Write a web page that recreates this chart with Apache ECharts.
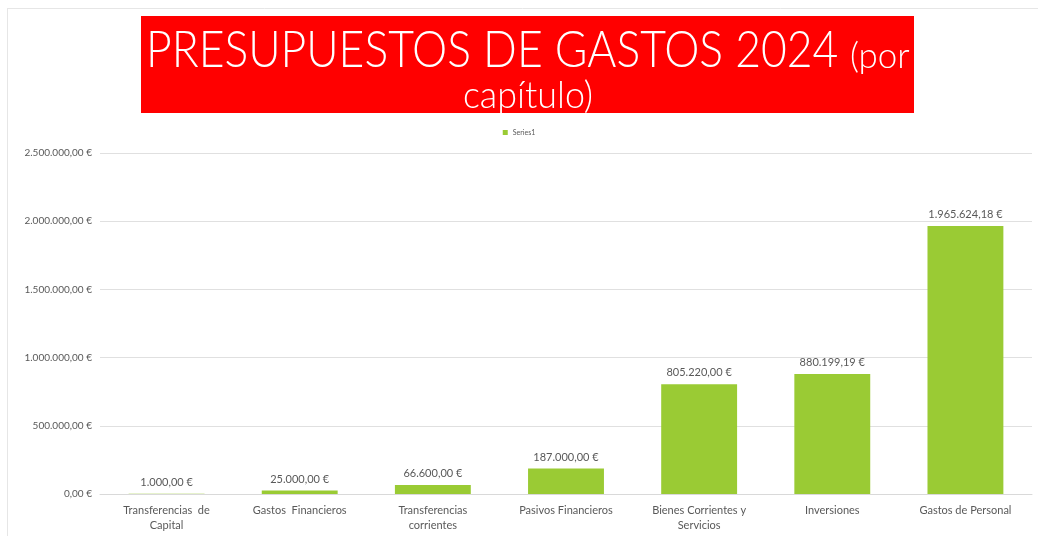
<!DOCTYPE html>
<html>
<head>
<meta charset="utf-8">
<script src="https://cdn.jsdelivr.net/npm/echarts@6/dist/echarts.min.js"></script>
<style>html,body{margin:0;padding:0;background:#fff}#c{width:1038px;height:536px}</style>
</head>
<body>
<div id="c"></div>
<script>
const categories = ["Transferencias  de\nCapital", "Gastos  Financieros", "Transferencias\ncorrientes", "Pasivos Financieros", "Bienes Corrientes y\nServicios", "Inversiones", "Gastos de Personal"];
const values = [1000, 25000, 66600, 187000, 805220, 880199.19, 1965624.18];
const seriesName = "Series1";
const titleMain = "PRESUPUESTOS DE GASTOS 2024";
const titleSub1 = "(por";
const titleSub2 = "capítulo)";

function fmt(v) {
  const parts = Number(v).toFixed(2).split('.');
  const intPart = parts[0].replace(/\B(?=(\d{3})+(?!\d))/g, '.');
  return intPart + ',' + parts[1] + ' €';
}

const chart = echarts.init(document.getElementById('c'));
const txt = '#595959';
const font = 'Lato';
chart.setOption({
  animation: false,
  textStyle: { fontFamily: font },
  legend: {
    data: [seriesName],
    top: 124, left: 'center',
    itemWidth: 5, itemHeight: 5, itemGap: 4,
    icon: 'rect',
    textStyle: { fontSize: 7, color: txt, fontFamily: font }
  },
  grid: { left: 100, right: 6, top: 153, bottom: 42, containLabel: false },
  xAxis: {
    type: 'category',
    data: categories,
    axisLine: { lineStyle: { color: '#d9d9d9' } },
    axisTick: { show: false },
    axisLabel: { color: txt, fontSize: 11, interval: 0, lineHeight: 15, margin: 9, fontFamily: font }
  },
  yAxis: {
    type: 'value',
    min: 0, max: 2500000, interval: 500000,
    axisLine: { show: false },
    axisTick: { show: false },
    splitLine: { lineStyle: { color: '#e0e0e0' } },
    axisLabel: { color: txt, fontSize: 10, margin: 8, formatter: fmt, fontFamily: font }
  },
  series: [{
    name: seriesName,
    type: 'bar',
    data: values,
    barWidth: '57%',
    itemStyle: { color: '#9ACB34' },
    label: { show: true, position: 'top', color: txt, fontSize: 11, distance: 6, formatter: p => fmt(p.value), fontFamily: font }
  }],
  graphic: [
    { type: 'line', shape: { x1: 7, y1: 8.5, x2: 1038, y2: 8.5 }, style: { stroke: '#e6e6e6', lineWidth: 1 }, silent: true },
    { type: 'line', shape: { x1: 7.5, y1: 8, x2: 7.5, y2: 536 }, style: { stroke: '#e6e6e6', lineWidth: 1 }, silent: true },
    { type: 'rect', shape: { x: 141, y: 16, width: 773, height: 97 }, style: { fill: '#FF0000' } },
    { type: 'text', x: 146, y: 76, scaleX: 0.855, style: { text: titleMain, fill: '#fff', font: '300 52px Lato', textVerticalAlign: 'bottom', textAlign: 'left' } },
    { type: 'text', x: 850, y: 74, scaleX: 0.97, style: { text: titleSub1, fill: '#fff', font: '300 36px Lato', textVerticalAlign: 'bottom', textAlign: 'left' } },
    { type: 'text', x: 528, y: 115, scaleX: 0.97, style: { text: titleSub2, fill: '#fff', font: '300 37px Lato', textVerticalAlign: 'bottom', textAlign: 'center' } }
  ]
});
</script>
</body>
</html>
